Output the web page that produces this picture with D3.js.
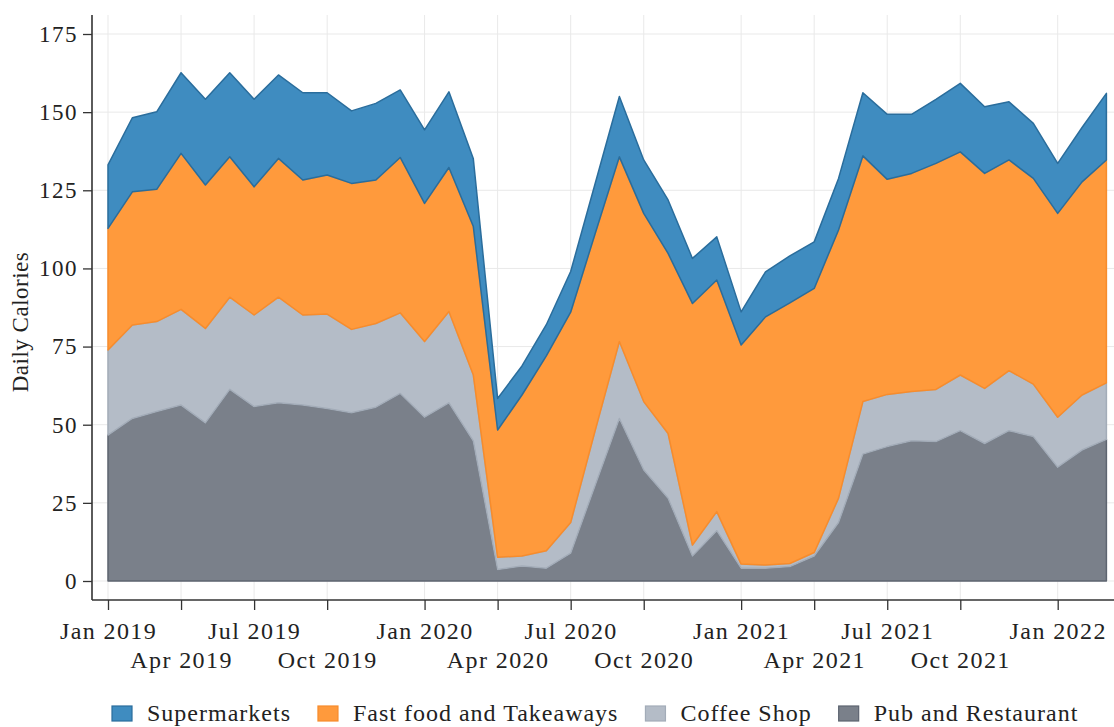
<!DOCTYPE html>
<html>
<head>
<meta charset="utf-8">
<script src="https://cdn.jsdelivr.net/npm/d3@7"></script>
<style>
  body { margin: 0; background: #fff; }
  text { font-family: "Liberation Serif", "Times New Roman", serif; fill: #222; }
</style>
</head>
<body>
<div id="chart"></div>
<script>
// 4-week periods, Jan 2019 .. Feb 2022 (42 periods, 13 per year)
var pub          = [46.7,52.0,54.2,56.3,50.6,61.3,55.8,57.0,56.3,55.2,53.8,55.6,60.0,52.4,57.0,44.8,3.7,4.8,4.1,8.9,30.5,52.0,35.5,26.5,8.0,16.1,4.1,4.1,4.6,8.0,18.7,40.6,43.0,44.9,44.6,48.1,44.0,48.1,46.2,36.4,41.9,45.3];
var coffee       = [27.2,29.9,28.8,30.6,30.2,29.5,29.3,33.8,28.8,30.2,26.7,26.8,25.8,24.2,29.2,21.2,3.9,3.2,5.6,9.8,17.5,24.6,21.9,20.7,3.5,6.1,1.3,1.0,1.0,1.1,7.8,16.8,16.7,15.7,16.7,17.8,17.6,19.2,16.8,16.0,17.6,18.1];
var fastFood     = [38.9,42.6,42.3,49.9,45.9,44.9,41.0,44.4,43.2,44.5,46.7,45.9,49.7,44.2,46.1,47.5,40.7,51.5,62.3,67.3,63.0,59.1,60.2,57.6,77.3,74.1,70.1,79.4,83.4,84.5,85.8,78.6,68.8,69.8,72.3,71.4,68.8,67.4,65.8,65.2,68.2,71.3];
var supermarkets = [20.3,23.7,24.8,25.8,27.4,26.9,28.0,26.7,27.9,26.3,23.2,24.5,21.6,23.5,24.2,21.7,10.1,9.3,10.0,13.0,16.0,19.3,17.1,17.1,14.4,13.8,10.6,14.4,15.0,14.9,16.5,20.2,20.8,18.9,20.5,21.9,21.3,18.6,17.6,16.0,17.4,21.3];

var tickPeriods = [0, 3, 6, 9, 13, 16, 19, 22, 26, 29, 32, 35, 39];
var tickLabels  = ["Jan 2019","Apr 2019","Jul 2019","Oct 2019","Jan 2020","Apr 2020","Jul 2020","Oct 2020","Jan 2021","Apr 2021","Jul 2021","Oct 2021","Jan 2022"];
var yTicks = [0, 25, 50, 75, 100, 125, 150, 175];

var keys   = ["pub", "coffee", "fastFood", "supermarkets"];
var names  = {supermarkets: "Supermarkets", fastFood: "Fast food and Takeaways", coffee: "Coffee Shop", pub: "Pub and Restaurant"};
var fills  = {supermarkets: "#3f8cc0", fastFood: "#ff9a3c", coffee: "#b4bcc7", pub: "#7a808a"};
var strokes = {supermarkets: "#2a6d9c", fastFood: "#f78c2c", coffee: "#a3acb8", pub: "#5d6470"};

var W = 1114, H = 727;
var axisX = 92, axisY = 600, plotTop = 15;

var rows = pub.map(function(v, i) {
    return {period: i, pub: v, coffee: coffee[i], fastFood: fastFood[i], supermarkets: supermarkets[i]};
});

var svg = d3.select("#chart").append("svg")
    .attr("width", W)
    .attr("height", H);

var x = d3.scaleLinear().domain([0, 41]).range([108, 1106.4]);
var y = d3.scaleLinear().domain([0, 175]).range([581, 34]);

// grid
svg.append("g").selectAll("line")
    .data(yTicks).enter().append("line")
    .attr("x1", axisX).attr("x2", W)
    .attr("y1", function(d) { return y(d); }).attr("y2", function(d) { return y(d); })
    .style("stroke", "#e9e9e9").style("stroke-width", 1);
svg.append("g").selectAll("line")
    .data(tickPeriods).enter().append("line")
    .attr("x1", function(d) { return x(d); }).attr("x2", function(d) { return x(d); })
    .attr("y1", plotTop).attr("y2", axisY)
    .style("stroke", "#e9e9e9").style("stroke-width", 1);

// stacked areas
var stack = d3.stack().keys(keys);
var series = stack(rows);

var area = d3.area()
    .x(function(d) { return x(d.data.period); })
    .y0(function(d) { return y(d[0]); })
    .y1(function(d) { return y(d[1]); });

svg.append("g").selectAll("path")
    .data(series).enter().append("path")
    .attr("d", area)
    .style("fill", function(d) { return fills[d.key]; })
    .style("stroke", function(d) { return strokes[d.key]; })
    .style("stroke-width", 1.5)
    .style("stroke-linejoin", "round");

// y axis
var yAxis = svg.append("g")
    .attr("transform", "translate(" + axisX + ",0)")
    .call(d3.axisLeft(y).tickValues(yTicks).tickSize(9).tickPadding(5));
yAxis.select(".domain").attr("d", "M0," + plotTop + "V" + axisY);
yAxis.selectAll(".tick text")
    .style("font-size", "23px")
    .style("letter-spacing", "1.5px");

// x axis
var xAxis = svg.append("g")
    .attr("transform", "translate(0," + axisY + ")")
    .call(d3.axisBottom(x).tickValues(tickPeriods).tickSize(10)
        .tickFormat(function(d, i) { return tickLabels[i]; }));
xAxis.select(".domain").attr("d", "M" + axisX + ",0H" + W);
xAxis.selectAll(".tick text")
    .attr("y", function(d, i) { return i % 2 === 0 ? 22 : 51; })
    .attr("dy", "0.71em")
    .style("font-size", "24px")
    .style("letter-spacing", "1.4px");

svg.selectAll(".domain").style("stroke", "#333").style("stroke-width", 1.6);
svg.selectAll(".tick line").style("stroke", "#333").style("stroke-width", 1.3);
svg.selectAll(".tick text")
    .style("font-family", '"Liberation Serif", "Times New Roman", serif')
    .style("fill", "#222");

// y label
svg.append("text")
    .attr("transform", "translate(28,322) rotate(-90)")
    .style("text-anchor", "middle")
    .style("font-size", "23px")
    .style("letter-spacing", "0.5px")
    .text("Daily Calories");

// legend
var legendOrder = ["supermarkets", "fastFood", "coffee", "pub"];
var lx = 112;
legendOrder.forEach(function(k) {
    svg.append("rect")
        .attr("x", lx).attr("y", 706)
        .attr("width", 20).attr("height", 15)
        .style("fill", fills[k])
        .style("stroke", strokes[k])
        .style("stroke-width", 1.2);
    var t = svg.append("text")
        .attr("x", lx + 35).attr("y", 721)
        .style("font-size", "24px")
        .style("letter-spacing", "1px")
        .text(names[k]);
    lx += 35 + t.node().getComputedTextLength() + 27;
});
</script>
</body>
</html>
